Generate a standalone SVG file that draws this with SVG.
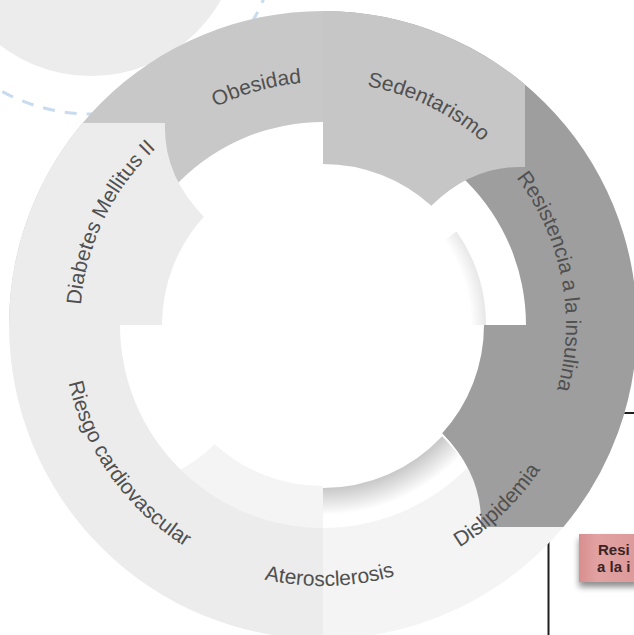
<svg xmlns="http://www.w3.org/2000/svg" width="634" height="635" viewBox="0 0 634 635">
  <style>
    .lbl { font-family: "Liberation Sans", Arial, sans-serif; font-size: 21px; fill: #505050; }
    .box { font-family: "Liberation Sans", Arial, sans-serif; font-size: 15px; font-weight: bold; fill: #3a2424; }
    .frame { stroke: #1e1e1e; stroke-width: 2; fill: none; }
  </style>
  <defs>
    <!-- one quadrant: strip piece (P) with chevron end, and the quarter band (Q) under it -->
    <path id="pieceP" d="M 323 11 A 314 314 0 0 1 525 84.6 L 525 167 Q 473 165 431.3 205.8 A 161 161 0 0 0 323 164 Z"/>
    <path id="pieceQ" d="M 323 11 A 314 314 0 0 1 637 325 L 526 325 A 203 203 0 0 0 323 122 Z"/>

    <radialGradient id="shadeBR" gradientUnits="userSpaceOnUse" cx="323" cy="325" r="190">
      <stop offset="0.858" stop-color="#c8c8c8"/>
      <stop offset="1" stop-color="#ffffff"/>
    </radialGradient>
    <radialGradient id="shadeTR" gradientUnits="userSpaceOnUse" cx="323" cy="325" r="164">
      <stop offset="0.9" stop-color="#ffffff"/>
      <stop offset="1" stop-color="#e6e6e6"/>
    </radialGradient>
    <linearGradient id="boxFill" x1="0" y1="0" x2="1" y2="0">
      <stop offset="0" stop-color="#d88e8e"/>
      <stop offset="0.3" stop-color="#e2a2a2"/>
      <stop offset="1" stop-color="#dc9999"/>
    </linearGradient>
    <filter id="drop" x="-20%" y="-20%" width="140%" height="160%">
      <feGaussianBlur in="SourceAlpha" stdDeviation="3"/>
      <feOffset dx="0" dy="5"/>
      <feComponentTransfer><feFuncA type="linear" slope="0.45"/></feComponentTransfer>
      <feMerge><feMergeNode/><feMergeNode in="SourceGraphic"/></feMerge>
    </filter>

    <!-- label baselines: outer-facing arcs (clockwise) and inner-facing arcs (counter-clockwise) -->
    <path id="arcObesidad" d="M 87.6 264.8 A 243 243 0 0 1 492.9 151.2"/>
    <path id="arcSedentarismo" d="M 186.1 124.3 A 243 243 0 0 1 565.3 306.8"/>
    <path id="arcResistencia" d="M 402.3 95.3 A 243 243 0 0 1 482.2 508.5"/>
    <path id="arcDiabetes" d="M 122.3 462.1 A 243 243 0 0 1 304.6 82.7"/>
    <path id="arcRiesgo" d="M 85.5 216.8 A 261 261 0 0 0 348.0 584.8"/>
    <path id="arcAterosclerosis" d="M 100.5 461.4 A 261 261 0 0 0 552.4 449.5"/>
    <path id="arcDislipidemia" d="M 250.8 575.8 A 261 261 0 0 0 576.3 262.1"/>
  </defs>

  <!-- background: soft disc and dashed orbit at the upper left -->
  <g id="backdrop">
    <circle cx="91" cy="-73" r="149" fill="#ececec"/>
    <circle cx="91" cy="-73" r="187" fill="none" stroke="#c8dbef" stroke-width="3" stroke-dasharray="12 10"/>
  </g>

  <!-- frame of the neighbouring panel -->
  <g id="panel">
    <line class="frame" x1="548.5" y1="530" x2="548.5" y2="635"/>
    <line class="frame" x1="600" y1="413" x2="634" y2="413"/>
  </g>

  <!-- ring segments -->
  <g id="ring">
    <g id="resistencia">
      <use href="#pieceQ" fill="#9e9e9e"/>
    </g>
    <g id="aterosclerosis">
      <use href="#pieceQ" fill="#f4f4f4" transform="rotate(90 323 325)"/>
      <use href="#pieceP" fill="#f4f4f4" transform="rotate(180 323 325)"/>
    </g>
    <g id="riesgo">
      <use href="#pieceQ" fill="#ececec" transform="rotate(180 323 325)"/>
    </g>
    <g id="obesidad">
      <use href="#pieceQ" fill="#c8c8c8" transform="rotate(270 323 325)"/>
    </g>
    <g id="sedentarismo">
      <use href="#pieceP" fill="#c6c6c6"/>
    </g>
    <g id="dislipidemia">
      <use href="#pieceP" fill="#9e9e9e" transform="rotate(90 323 325)"/>
    </g>
    <g id="diabetes">
      <use href="#pieceP" fill="#ececec" transform="rotate(270 323 325)"/>
    </g>
    <!-- soft shading along the inner rim -->
    <path d="M 323 488 A 163 163 0 0 0 442.2 436.2 L 461.6 457.5 A 190 190 0 0 1 323 515 Z" fill="url(#shadeBR)"/>
    <path d="M 486 325 A 163 163 0 0 0 456.5 231.5 L 444 240.6 A 148 148 0 0 1 471 325 Z" fill="url(#shadeTR)"/>
  </g>

  <!-- labels -->
  <g id="labels">
    <text class="lbl"><textPath href="#arcObesidad" startOffset="50%" text-anchor="middle">Obesidad</textPath></text>
    <text class="lbl"><textPath href="#arcSedentarismo" startOffset="50%" text-anchor="middle">Sedentarismo</textPath></text>
    <text class="lbl"><textPath href="#arcResistencia" startOffset="50%" text-anchor="middle" textLength="224" lengthAdjust="spacing">Resistencia a la insulina</textPath></text>
    <text class="lbl"><textPath href="#arcDiabetes" startOffset="50%" text-anchor="middle">Diabetes Mellitus II</textPath></text>
    <text class="lbl"><textPath href="#arcRiesgo" startOffset="50%" text-anchor="middle">Riesgo cardiovascular</textPath></text>
    <text class="lbl"><textPath href="#arcAterosclerosis" startOffset="50%" text-anchor="middle">Aterosclerosis</textPath></text>
    <text class="lbl"><textPath href="#arcDislipidemia" startOffset="50%" text-anchor="middle">Dislipidemia</textPath></text>
  </g>

  <!-- neighbouring callout, cut by the edge -->
  <g id="callout">
    <rect x="579" y="534" width="60" height="48" fill="url(#boxFill)" filter="url(#drop)"/>
    <text class="box" x="598" y="555">Resi</text>
    <text class="box" x="597" y="572">a la i</text>
  </g>
</svg>
